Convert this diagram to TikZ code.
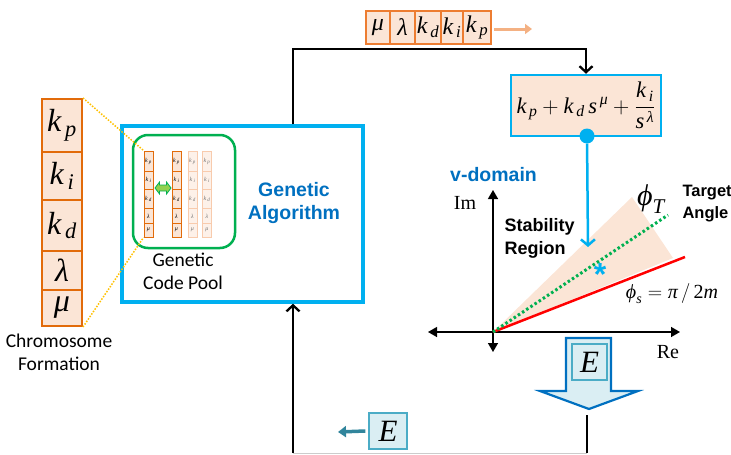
\documentclass[tikz,border=0pt]{standalone}
\usepackage{fix-cm}
\usepackage{amsmath}
\usepackage{fontspec}
\setmainfont{Liberation Serif}
\newfontfamily\calfont{Carlito}
\newfontfamily\arfont{Liberation Sans}
\newfontfamily\serfont{Liberation Serif}
\usetikzlibrary{arrows.meta}
\definecolor{peach}{HTML}{FBE5D6}
\definecolor{paler}{HTML}{FDF1E9}
\definecolor{orangeb}{HTML}{E26B0A}
\definecolor{orangel}{HTML}{ED7D31}
\definecolor{orangef}{HTML}{F8CBAD}
\definecolor{orarrow}{HTML}{F4B183}
\definecolor{dotyel}{HTML}{FFC000}
\definecolor{cyanb}{HTML}{00B0F0}
\definecolor{textblue}{HTML}{0070C0}
\definecolor{gagreen}{HTML}{00B050}
\definecolor{lgreen}{HTML}{92D050}
\definecolor{efill}{HTML}{DAEEF3}
\definecolor{eborder}{HTML}{4BACC6}
\definecolor{teal2}{HTML}{31859C}
\newcommand{\tv}[1]{\text{\serfont\itshape #1}}
\newcommand{\ksub}[1]{$\tv{k}_{\,\tv{#1}}$}
\newcommand{\smallcol}[3]{%
\node[#3, minimum height=20pt] (#2p) at (#1,161) {\ksub{p}};
\node[#3, minimum height=18.3pt] (#2i) at (#1,180.15) {\ksub{i}};
\node[#3, minimum height=19.3pt] (#2d) at (#1,198.95) {\ksub{d}};
\node[#3, minimum height=14.8pt] (#2l) at (#1,216) {$\tv{λ}$};
\node[#3, minimum height=13.6pt] (#2m) at (#1,230.2) {$\tv{μ}$};}
\begin{document}
\begin{tikzpicture}[x=1pt,y=-1pt,
  bigcell/.style={draw=orangeb, fill=peach, line width=2pt, minimum width=40pt, inner sep=0pt, font=\serfont\fontsize{32}{34}\selectfont},
  topcell/.style={draw=orangel, fill=peach, line width=1.3pt, minimum height=33pt, inner sep=0pt, font=\serfont\fontsize{24}{26}\selectfont},
  smallcell/.style={draw=orangeb, fill=peach, line width=1pt, minimum width=9pt, inner sep=0pt, font=\serfont\fontsize{6}{7}\selectfont},
  fadecell/.style={draw=orangef, fill=paler, line width=1pt, minimum width=9pt, inner sep=0pt, text=black!55, font=\serfont\fontsize{6}{7}\selectfont},
  dotline/.style={draw=dotyel, line width=1.5pt, dash pattern=on 1.5pt off 1.5pt},
  blk/.style={draw=black, line width=2.3pt},
  barb/.style={-{Straight Barb[length=6pt,width=13pt,line width=2.3pt]}},
  axis/.style={draw=black, line width=1.4pt, {Triangle[length=9pt,width=10pt]}-{Triangle[length=9pt,width=10pt]}},
  ebox/.style={draw=eborder, fill=efill, line width=1.3pt, inner sep=0pt, font=\serfont\fontsize{31}{33}\selectfont},
  calibri/.style={font=\calfont\fontsize{19.5}{23}\selectfont, align=center},
  arialb/.style={font=\arfont\bfseries\fontsize{19.5}{23}\selectfont}
]
\useasboundingbox (0,0) rectangle (731,455);

% ---------- big chromosome ----------
\node[bigcell, minimum height=53pt] (kp) at (62,125.5) {\ksub{p}};
\node[bigcell, minimum height=48pt] (ki) at (62,176) {\ksub{i}};
\node[bigcell, minimum height=51pt] (kd) at (62,225.5) {\ksub{d}};
\node[bigcell, minimum height=39pt] (lam) at (62,270.5) {$\tv{λ}$};
\node[bigcell, minimum height=36pt] (mu) at (62,308) {$\tv{μ}$};
\node[calibri] (chromlabel) at (59,352) {Chromosome\\Formation};

% ---------- GA box ----------
\node[draw=cyanb, line width=3.5pt, minimum width=241pt, minimum height=176pt] (ga) at (242.5,214) {};
\node[draw=gagreen, line width=2.5pt, rounded corners=15pt, minimum width=102pt, minimum height=113pt] (pool) at (184,191.5) {};
\smallcol{148.5}{a}{smallcell}
\smallcol{176.5}{b}{smallcell}
\smallcol{192.5}{c}{fadecell}
\smallcol{207}{e}{fadecell}
\draw[draw=gagreen, fill=lgreen, line width=0.8pt] (155,188) -- (159.5,182) -- (159.5,185) -- (166.5,185) -- (166.5,182) -- (171,188) -- (166.5,194) -- (166.5,191) -- (159.5,191) -- (159.5,194) -- cycle;
\node[calibri] (poollabel) at (183,271) {Genetic\\Code Pool};
\node[arialb, text=textblue, align=center] (galabel) at (294,203) {Genetic\\Algorithm};

\draw[dotline] (kp.north east) -- (ap.north west);
\draw[dotline] (mu.south east) -- (am.south west);

% ---------- top chromosome row ----------
\node[topcell, minimum width=24pt] (tmu) at (378,27.5) {$\tv{μ}$};
\node[topcell, minimum width=25pt] (tlam) at (402.5,27.5) {$\tv{λ}$};
\node[topcell, minimum width=26pt] (tkd) at (428,27.5) {\ksub{d}};
\node[topcell, minimum width=22pt] (tki) at (452,27.5) {\ksub{i}};
\node[topcell, minimum width=28pt] (tkp) at (477,27.5) {\ksub{p}};
\coordinate (oratip) at (532,29);
\draw[draw=orarrow, line width=3pt, -{Triangle[length=7pt,width=10pt]}] (494,29) -- (oratip);

% ---------- formula ----------
\node[draw=cyanb, fill=peach, line width=2.5pt, minimum width=150pt, minimum height=61pt, inner sep=0pt, font=\serfont\fontsize{22.5}{24}\selectfont] (form) at (586,105.5)
  {$\tv{k}_{\,\tv{p}} + \tv{k}_{\,\tv{d}}\,\tv{s}^{\,\tv{μ}} + \dfrac{\tv{k}_{\,\tv{i}}}{\tv{s}^{\,\tv{λ}}}$};
\coordinate (topleft) at (293,49);
\draw[blk, barb] (topleft |- ga.north) -- (topleft) -| (form.north);

% ---------- v-domain plot ----------
\coordinate (O) at (493,332);
\fill[peach] (O) -- (632,197) -- (673,258) -- cycle;
\coordinate (xl) at (428,332); \coordinate (xr) at (680,332);
\coordinate (yt) at (493,190); \coordinate (yb) at (493,352);
\draw[axis] (xl) -- (xr);
\draw[axis] (yb) -- (yt);
\coordinate (redend) at (685,257);
\coordinate (greenend) at (668,215);
\draw[draw=red, line width=2.5pt] (O) -- (redend);
\draw[draw=gagreen, line width=3pt, dash pattern=on 2.5pt off 2.5pt] (O) -- (greenend);
\node[arialb, text=textblue] (vdom) at (493.5,175) {v-domain};
\node[font=\serfont\fontsize{20}{22}\selectfont] (im) at (465,203) {Im};
\node[font=\serfont\fontsize{20}{22}\selectfont] (re) at (668,352) {Re};
\node[font=\arfont\bfseries\fontsize{18}{23}\selectfont, align=left, anchor=west] (stab) at (501,238) {Stability\\Region};
\node[font=\serfont\fontsize{30}{32}\selectfont] (phit) at (651,199) {$\tv{ϕ}_{\tv{T}}$};
\node[font=\arfont\bfseries\fontsize{16.5}{22}\selectfont, align=left, anchor=west] (target) at (679,204) {Target\\Angle};
\node[font=\serfont\fontsize{20}{22}\selectfont] (phis) at (672,294) {$\tv{ϕ}_{\tv{s}} = \tv{π}\,/\,\text{2}\tv{m}$};
\node[font=\arfont\bfseries\fontsize{32}{34}\selectfont, text=cyanb, anchor=base, inner sep=0pt] (star) at (600,285) {*};

% blue arrow from formula to plot
\node[circle, fill=cyanb, minimum size=15pt, inner sep=0pt] (dot) at (587,136) {};
\coordinate (bluetip) at (588,247);
\draw[draw=cyanb, line width=2.5pt, -{Straight Barb[length=6pt,width=14pt,line width=2.5pt]}] (dot) -- (bluetip);

% ---------- E arrow and feedback ----------
\draw[draw=textblue, fill=efill, line width=2.2pt, line join=miter] (566,338) -- (611,338) -- (611,391) -- (638,391) -- (589,409) -- (540,391) -- (566,391) -- cycle;
\node[ebox, minimum width=35pt, minimum height=36pt] (ebig) at (589.5,362) {$\tv{E}$};
\coordinate (fb1) at (587,415);
\coordinate (fb2) at (587,453);
\coordinate (fb3) at (293,453);
\draw[blk] (fb1) -- (fb2);
\draw[draw=black!20, line width=1pt] (fb2) -- (fb3);
\draw[blk, barb] (fb3) -- (fb3 |- ga.south);
\node[ebox, minimum width=38pt, minimum height=36pt] (esmall) at (388,431) {$\tv{E}$};
\coordinate (tealtip) at (338,432);
\draw[draw=teal2, line width=3.5pt, -{Triangle[length=8pt,width=11pt]}] (esmall.west) ++(-3,0) -- (tealtip);
\end{tikzpicture}
\end{document}
